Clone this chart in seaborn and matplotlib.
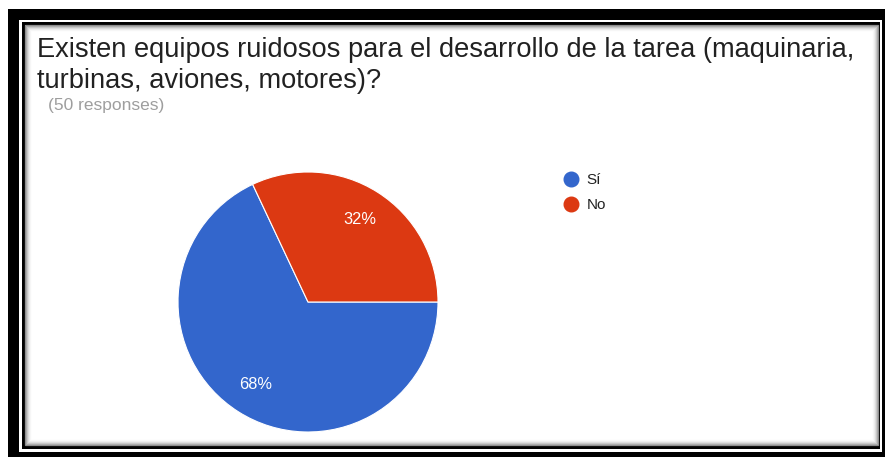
import matplotlib
matplotlib.use("Agg")
import matplotlib.pyplot as plt
from matplotlib.lines import Line2D
from matplotlib.patches import Rectangle
import seaborn as sns

# survey answers
labels = ["Sí", "No"]
shares = [68, 32]
colors = ["#3366CC", "#DC3912"]

title_lines = [
    "Existen equipos ruidosos para el desarrollo de la tarea (maquinaria,",
    "turbinas, aviones, motores)?",
]
subtitle = "(50 responses)"

W, H = 885, 457

sns.set_style("white")
plt.rcParams["font.family"] = ["Liberation Sans", "DejaVu Sans"]

fig = plt.figure(figsize=(W / 100, H / 100), dpi=100)


def px_rect(x0, y0, x1, y1, **kw):
    # rectangle given in pixel coords (origin top-left)
    return Rectangle((x0 / W, 1 - y1 / H), (x1 - x0) / W, (y1 - y0) / H,
                     transform=fig.transFigure, figure=fig, **kw)


# double frame of the screenshot
fig.patches.append(px_rect(8, 9, 886, 458, facecolor="black", lw=0))
fig.patches.append(px_rect(19, 20, 882, 452, facecolor="white", lw=0))
fig.patches.append(px_rect(22, 22, 880, 449, facecolor="black", lw=0))
fig.patches.append(px_rect(25, 25, 878, 445, facecolor="white", lw=0))
# soft inner shadow
for i, g in enumerate(["#8a8a8a", "#a8a8a8", "#c4c4c4", "#dadada", "#ebebeb", "#f6f6f6"]):
    fig.patches.append(px_rect(25 + i, 25 + i, 878 - i, 445 - i, facecolor="none",
                               edgecolor=g, lw=0.9))

# title
fig.text(37 / W, 1 - 57 / H, title_lines[0], fontsize=19.6, color="#212121", va="baseline")
fig.text(37 / W, 1 - 88 / H, title_lines[1], fontsize=19.6, color="#212121", va="baseline")
fig.text(48 / W, 1 - 110 / H, subtitle, fontsize=12.5, color="#9e9e9e", va="baseline")

# pie, center (308, 302) px, radius 130 px
cx, cy, r = 308, 302, 130
ax = fig.add_axes([(cx - r) / W, 1 - (cy + r) / H, 2 * r / W, 2 * r / H])
ax.set_zorder(5)
wedges, texts, autotexts = ax.pie(
    shares, colors=colors, startangle=0, counterclock=False,
    autopct="%1.0f%%", pctdistance=0.75,
    wedgeprops={"edgecolor": "white", "linewidth": 0.8},
    textprops={"color": "white", "fontsize": 11.8},
)
ax.set_xlim(-1, 1)
ax.set_ylim(-1, 1)
ax.set_aspect("auto")
ax.axis("off")

handles = [Line2D([], [], marker="o", linestyle="none", markersize=10.5,
                  markerfacecolor=c, markeredgecolor=c) for c in colors]
leg = fig.legend(handles, labels, loc="upper left", bbox_to_anchor=(563 / W, 1 - 173 / H),
                 frameon=False, fontsize=11, handlelength=1.0, handletextpad=0.55,
                 labelspacing=0.75, borderpad=0, borderaxespad=0, labelcolor="#222222")
leg.set_zorder(6)

fig.savefig("out.png", dpi=100)
